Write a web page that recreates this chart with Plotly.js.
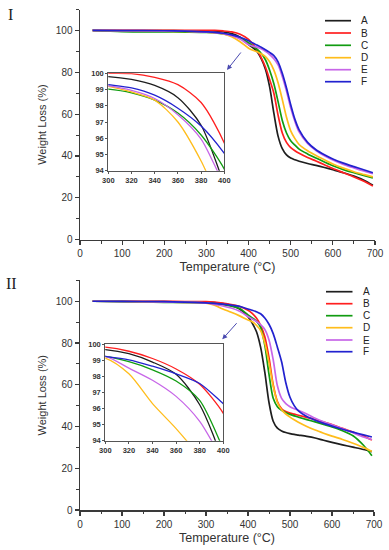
<!DOCTYPE html>
<html><head><meta charset="utf-8">
<script src="https://cdn.plot.ly/plotly-3.0.1.min.js"></script>
<style>html,body{margin:0;padding:0;background:#fff}#chart{width:389px;height:550px}</style>
</head><body><div id="chart"></div>
<script>
// ---- data ----
const temperature = [30, 100, 200, 250, 300, 320, 340, 360, 380, 400, 410, 420, 430, 440, 450, 460, 470, 480, 490, 500, 510, 520, 540, 560, 580, 600, 625, 650, 675, 695];
const seriesNames = ['A', 'B', 'C', 'D', 'E', 'F'];
const seriesColors = ['#1e1e1e', '#ff1f1f', '#119c11', '#ffbd1c', '#c766e8', '#2222cf'];

// Panel I
const weightI_A = [100, 99.95, 99.9, 99.85, 99.8, 99.62, 99.25, 98.5, 96.8, 93.2, 91.8, 90, 86.5, 81.5, 73, 60.5, 49.5, 43.5, 40.5, 39, 38.2, 37.5, 36.4, 35.5, 34.5, 33.4, 32, 30.4, 28.3, 26];
const weightI_B = [100, 100, 100, 100, 100, 99.98, 99.75, 99.3, 98.2, 95.7, 93.5, 90.8, 87, 82.5, 76.5, 70, 59.5, 51, 46.5, 44, 42.5, 41.3, 39.3, 37.6, 35.8, 34, 32, 30, 27.8, 25.6];
const weightI_C = [100, 99.4, 99.3, 99.2, 99.03, 98.8, 98.35, 97.55, 96.2, 94.1, 92.5, 91, 89, 86, 81, 74.5, 66, 57, 51, 47.3, 45.2, 43.3, 41, 39, 37.1, 35.3, 33.5, 32, 30.6, 29.5];
const weightI_D = [100, 99.8, 99.6, 99.5, 99.2, 98.85, 98.35, 97.0, 94.6, 91.5, 90.5, 89.8, 88.8, 87.5, 85, 81, 75, 67, 58.5, 52, 48.3, 45.5, 42.5, 40.2, 38.2, 36.2, 34.2, 32.5, 31.1, 30];
const weightI_E = [100, 99.9, 99.8, 99.6, 99.22, 98.95, 98.45, 97.45, 95.95, 93.2, 92.5, 92, 91.2, 90, 88.5, 86.5, 83.5, 78, 71, 63, 56.5, 51.5, 46, 42.6, 40.1, 38.1, 36, 34.3, 32.7, 31.5];
const weightI_F = [100, 99.95, 99.85, 99.7, 99.3, 99.1, 98.65, 97.85, 96.75, 95.07, 94, 93, 92, 90.8, 89.5, 88, 85, 79.5, 72.5, 64.5, 57.5, 52.5, 46.5, 43, 40.6, 38.6, 36.6, 34.9, 33.3, 32];

// Panel II
const weightII_A = [100, 99.95, 99.8, 99.75, 99.65, 99.4, 98.88, 98.12, 96.23, 92.6, 89.5, 85.5, 78, 66, 51.5, 42.5, 39.2, 37.9, 37.1, 36.6, 36.2, 35.9, 35.3, 34.5, 33.4, 32.4, 31.2, 30.1, 29, 28];
const weightII_B = [100, 100, 99.95, 99.9, 99.8, 99.55, 99.1, 98.45, 97.5, 95.7, 94.2, 92, 88.5, 83, 73, 60, 52, 48.5, 47.2, 46.4, 45.9, 45.4, 44.4, 43.3, 42.1, 40.9, 39.1, 37.3, 35.4, 33.5];
const weightII_C = [100, 99.8, 99.5, 99.4, 99.23, 98.9, 98.4, 97.7, 96.5, 93.5, 92, 90.5, 87.5, 79, 65, 53.5, 49.5, 47.8, 46.6, 45.8, 45.1, 44.5, 43.3, 42.2, 41, 39.8, 38, 35.6, 31, 26];
const weightII_D = [100, 99.9, 99.7, 99.5, 99.13, 98.15, 96.3, 94.75, 93.0, 91.0, 90.2, 88.5, 86, 80, 70.5, 59.5, 51.5, 48, 46, 44.5, 43.2, 42, 40, 38.3, 36.8, 35.4, 33.8, 32, 30, 28];
const weightII_E = [100, 99.9, 99.7, 99.5, 99.23, 98.5, 97.75, 96.75, 95.2, 92.7, 91.5, 90.3, 88.8, 86.5, 81.5, 72, 59.5, 53.5, 51, 49.5, 48.5, 47.8, 46, 44, 42.3, 40.8, 39, 37, 35, 33.8];
const weightII_F = [100, 99.95, 99.8, 99.6, 99.23, 99.02, 98.62, 98.15, 97.55, 96.3, 95.7, 95, 94, 92, 89, 84.5, 78, 71, 61, 54, 50, 47.5, 44.8, 43, 41.5, 40.2, 38.7, 37.3, 36, 35];

const mainXTicks = [0, 100, 200, 300, 400, 500, 600, 700];
const mainYTicks = [0, 20, 40, 60, 80, 100];
const insetXTicks = [300, 320, 340, 360, 380, 400];
const insetYTicks = [94, 95, 96, 97, 98, 99, 100];

const panelI = [weightI_A, weightI_B, weightI_C, weightI_D, weightI_E, weightI_F];
const panelII = [weightII_A, weightII_B, weightII_C, weightII_D, weightII_E, weightII_F];

// ---- layout helpers ----
const W = 389, H = 550;
const px = v => v / W;
const py = v => (H - v) / H;
const FONT = 'Liberation Sans, Arial, sans-serif';
const AX = '#3a3a3a';

const traces = [];
function addPanel(data, xa, ya, xi, yi) {
  data.forEach((vals, i) => {
    traces.push({x: temperature, y: vals, xaxis: xa, yaxis: ya, type: 'scatter', mode: 'lines',
      name: seriesNames[i], line: {color: seriesColors[i], width: 1.7, shape: 'spline', smoothing: 0.8}, hoverinfo: 'skip'});
    traces.push({x: temperature, y: vals, xaxis: xi, yaxis: yi, type: 'scatter', mode: 'lines',
      name: seriesNames[i], line: {color: seriesColors[i], width: 1.3, shape: 'spline', smoothing: 0.8}, hoverinfo: 'skip'});
  });
}
addPanel(panelI, 'x', 'y', 'x2', 'y2');
addPanel(panelII, 'x3', 'y3', 'x4', 'y4');

function mainX(domain, anchor) {
  return {domain, anchor, range: [0, 700], tickvals: mainXTicks, showline: true, linecolor: AX, linewidth: 1.5,
    ticks: 'outside', ticklen: 4, tickwidth: 1.2, tickcolor: AX,
    minor: {ticks: 'outside', ticklen: 2.5, tickwidth: 1, tickcolor: AX, dtick: 50, tick0: 0},
    showgrid: false, zeroline: false, tickfont: {family: FONT, size: 10, color: '#333'},
    title: {text: 'Temperature (°C)', font: {family: FONT, size: 12.5, color: '#333'}, standoff: 4}};
}
function mainY(domain, anchor) {
  return {domain, anchor, range: [0, 110], tickvals: mainYTicks, showline: true, linecolor: AX, linewidth: 1.5,
    ticks: 'outside', ticklen: 4, tickwidth: 1.2, tickcolor: AX,
    minor: {ticks: 'outside', ticklen: 2.5, tickwidth: 1, tickcolor: AX, dtick: 10, tick0: 0},
    showgrid: false, zeroline: false, tickfont: {family: FONT, size: 10, color: '#333'},
    title: {text: 'Weight Loss (%)', font: {family: FONT, size: 11, color: '#333'}, standoff: 7}};
}
function insetX(domain, anchor) {
  return {domain, anchor, range: [300, 400], tickvals: insetXTicks, showline: true, mirror: true, linecolor: '#555', linewidth: 1,
    ticks: 'outside', ticklen: 2, tickcolor: '#555', showgrid: false, zeroline: false,
    tickfont: {family: FONT, size: 7.5, color: '#333', weight: 'bold'}};
}
function insetY(domain, anchor) {
  return {domain, anchor, range: [94, 100], tickvals: insetYTicks, showline: true, mirror: true, linecolor: '#555', linewidth: 1,
    ticks: 'outside', ticklen: 2, tickcolor: '#555', showgrid: false, zeroline: false,
    tickfont: {family: FONT, size: 7.5, color: '#333', weight: 'bold'}};
}

const shapes = [];
const annotations = [];
function addLegend(x0, x1, xt, ys) {
  seriesNames.forEach((n, i) => {
    shapes.push({type: 'line', xref: 'paper', yref: 'paper', x0: px(x0), x1: px(x1), y0: py(ys[i]), y1: py(ys[i]),
      line: {color: seriesColors[i], width: 1.7}});
    annotations.push({xref: 'paper', yref: 'paper', x: px(xt), y: py(ys[i]), xanchor: 'left', yanchor: 'middle',
      text: n, showarrow: false, font: {family: FONT, size: 10, color: '#222'}});
  });
}
addLegend(325, 351, 359, [20.7, 33, 45.3, 57.7, 69.7, 81.7]);
addLegend(326, 352.5, 360.5, [291.7, 303.7, 315.7, 327.7, 340, 351.7]);

annotations.push({xref: 'paper', yref: 'paper', x: px(10.5), y: py(15), xanchor: 'center', yanchor: 'middle',
  text: 'I', showarrow: false, font: {family: 'Liberation Serif, Times New Roman, serif', size: 16, color: '#222'}});
annotations.push({xref: 'paper', yref: 'paper', x: px(11), y: py(283), xanchor: 'center', yanchor: 'middle',
  text: 'II', showarrow: false, font: {family: 'Liberation Serif, Times New Roman, serif', size: 16, color: '#222'}});

// arrows pointing at insets
annotations.push({xref: 'paper', yref: 'paper', x: px(227), y: py(70), ax: 15, ay: -19, text: '',
  showarrow: true, arrowhead: 2, arrowsize: 1, arrowwidth: 1, arrowcolor: '#4a4ab0'});
annotations.push({xref: 'paper', yref: 'paper', x: px(222.3), y: py(339.3), ax: 15.7, ay: -17.6, text: '',
  showarrow: true, arrowhead: 2, arrowsize: 1, arrowwidth: 1, arrowcolor: '#4a4ab0'});

const layout = {
  width: W, height: H, margin: {l: 0, r: 0, t: 0, b: 0, pad: 0},
  paper_bgcolor: '#fff', plot_bgcolor: '#fff', showlegend: false,
  xaxis: mainX([px(80), px(375)], 'y'),
  yaxis: mainY([py(239.7), py(9.5)], 'x'),
  xaxis2: insetX([px(108.3), px(224.3)], 'y2'),
  yaxis2: insetY([py(170.7), py(73.3)], 'x2'),
  xaxis3: mainX([px(80), px(374)], 'y3'),
  yaxis3: mainY([py(510), py(280.4)], 'x3'),
  xaxis4: insetX([px(105.3), px(223.3)], 'y4'),
  yaxis4: insetY([py(440.7), py(344)], 'x4'),
  shapes, annotations
};

Plotly.newPlot('chart', traces, layout, {staticPlot: true, displayModeBar: false});
</script>
</body></html>
